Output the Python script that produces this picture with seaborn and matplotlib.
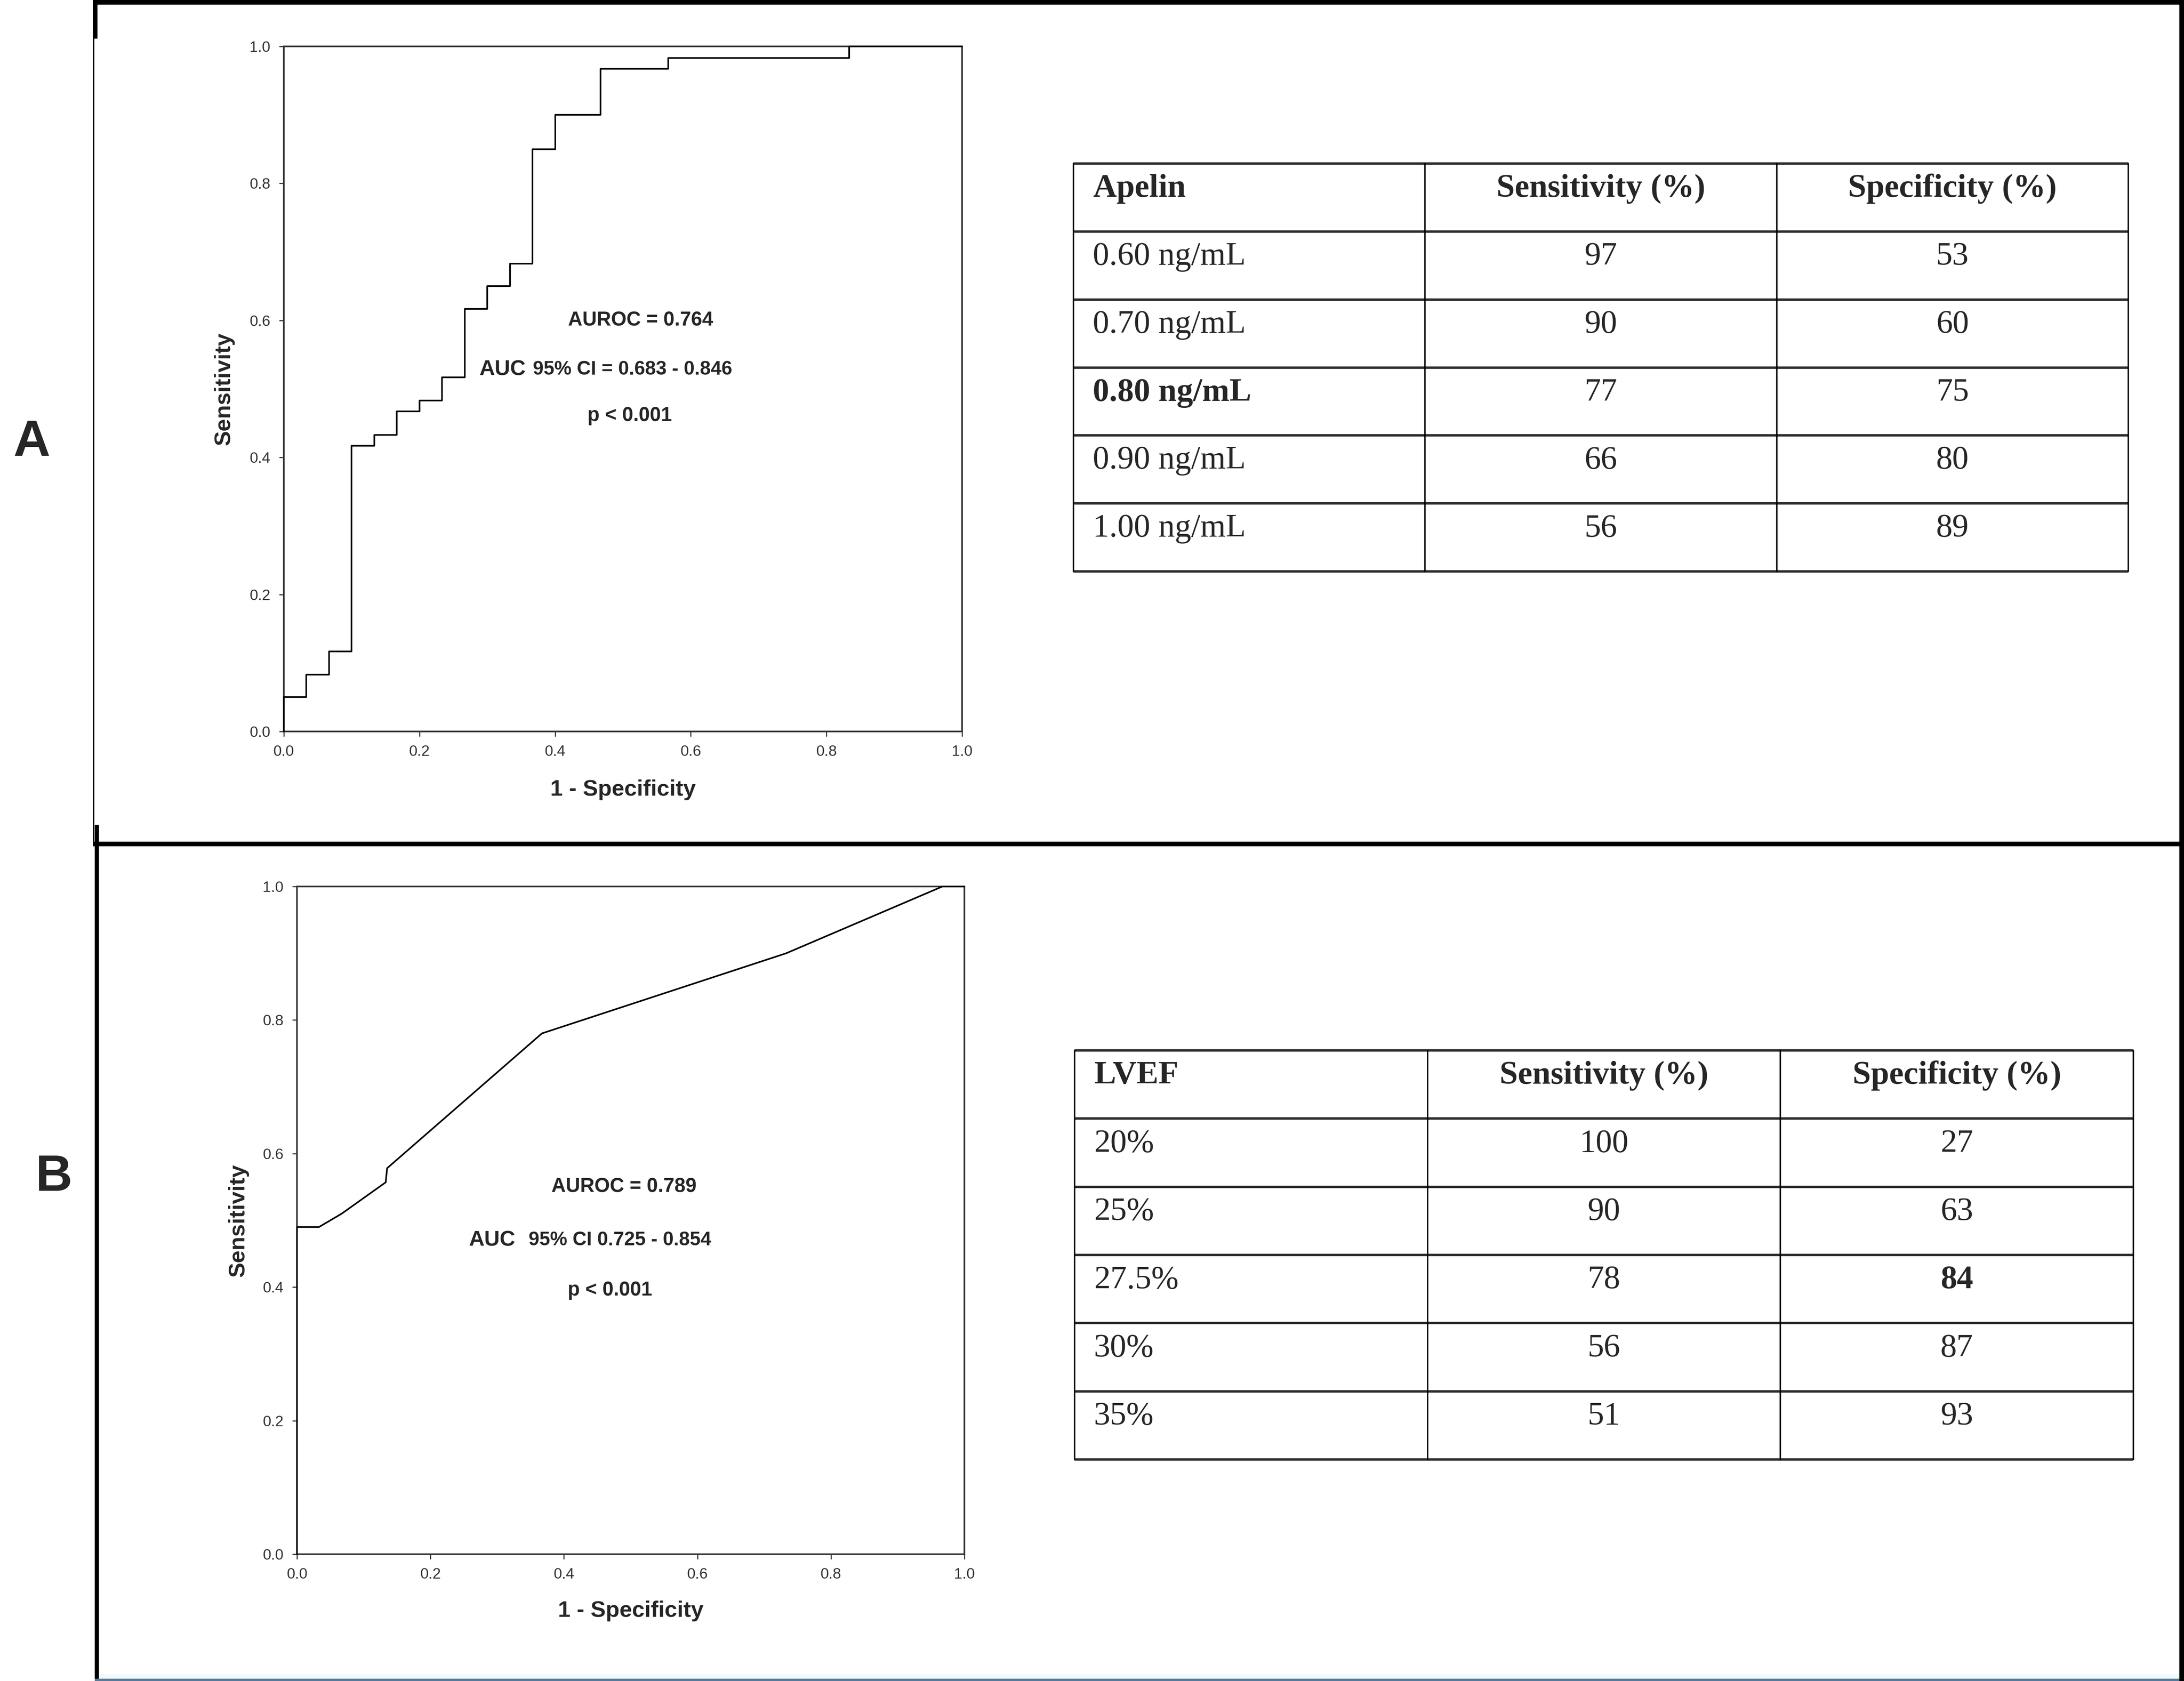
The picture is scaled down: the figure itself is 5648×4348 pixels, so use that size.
import matplotlib
matplotlib.use("Agg")
import matplotlib.pyplot as plt
from matplotlib.lines import Line2D
import seaborn as sns

# ---- data ----
# Panel A: apelin ROC curve (corner points of the step curve)
apelin_fpr = [0, 0, 1/30, 2/30, 3/30, 4/30, 5/30, 6/30, 7/30, 8/30, 9/30,
              10/30, 11/30, 12/30, 14/30, 17/30, 25/30, 1.0]
apelin_tpr = [0, 0.05, 0.083, 0.117, 0.417, 0.433, 0.467, 0.483, 0.517,
              0.617, 0.65, 0.683, 0.85, 0.90, 0.967, 0.983, 1.0, 1.0]

# Panel B: LVEF ROC curve
lvef_fpr = [0, 0, 0.033, 0.067, 0.133, 0.135, 0.367, 0.733, 0.967, 1.0]
lvef_tpr = [0, 0.49, 0.49, 0.51, 0.557, 0.578, 0.78, 0.90, 1.0, 1.0]

# cut-off tables
apelin_cutoffs = ["0.60 ng/mL", "0.70 ng/mL", "0.80 ng/mL", "0.90 ng/mL", "1.00 ng/mL"]
apelin_sens = [97, 90, 77, 66, 56]
apelin_spec = [53, 60, 75, 80, 89]

lvef_cutoffs = ["20%", "25%", "27.5%", "30%", "35%"]
lvef_sens = [100, 90, 78, 56, 51]
lvef_spec = [27, 63, 84, 87, 93]

table_cols = ["Sensitivity (%)", "Specificity (%)"]

axis_ticks = [0.0, 0.2, 0.4, 0.6, 0.8, 1.0]
axis_tick_labels = ["0.0", "0.2", "0.4", "0.6", "0.8", "1.0"]

apelin_notes = ["AUROC = 0.764", "AUC", "95% CI = 0.683 - 0.846", "p < 0.001"]
lvef_notes = ["AUROC = 0.789", "AUC", "95% CI 0.725 - 0.854", "p < 0.001"]

# ---- style ----
sns.set_style("white")
plt.rcParams["font.family"] = ["Liberation Sans", "DejaVu Sans"]

W, H = 5648, 4348
fig = plt.figure(figsize=(W / 100, H / 100), dpi=100)


def px_axes(left, top, right, bottom):
    # pixel box -> figure fraction
    return [left / W, 1 - bottom / H, (right - left) / W, (bottom - top) / H]


def draw_roc(ax, fpr, tpr, steps, notes, pos):
    kw = dict(drawstyle="steps-post") if steps else {}
    sns.lineplot(x=fpr, y=tpr, ax=ax, color="black", linewidth=3.0,
                 estimator=None, sort=False, clip_on=False, zorder=3, **kw)
    ax.set_xlim(0, 1)
    ax.set_ylim(0, 1)
    ax.set_xticks(axis_ticks, axis_tick_labels)
    ax.set_yticks(axis_ticks, axis_tick_labels)
    ax.tick_params(bottom=True, left=True, direction="out", length=9,
                   width=2, labelsize=28, colors="#333333", pad=16)
    for sp in ax.spines.values():
        sp.set_visible(True)
        sp.set_color("#333333")
        sp.set_linewidth(3.0)
    ax.set_xlabel("")
    ax.set_ylabel("")
    ax.text(0.5, -0.085, "1 - Specificity", transform=ax.transAxes,
            ha="center", va="center", fontsize=42, fontweight="bold")
    ax.text(-0.088, 0.5, "Sensitivity", transform=ax.transAxes, rotation=90,
            ha="center", va="center", fontsize=42, fontweight="bold")
    (x_auroc, y_auroc), (x_auc, x_ci, y_ci), (x_p, y_p) = pos
    ax.text(x_auroc, y_auroc, notes[0], ha="center", va="center",
            fontsize=37, fontweight="bold")
    ax.text(x_auc, y_ci, notes[1], ha="right", va="center",
            fontsize=40, fontweight="bold")
    ax.text(x_ci, y_ci, notes[2], ha="left", va="center",
            fontsize=36, fontweight="bold")
    ax.text(x_p, y_p, notes[3], ha="center", va="center",
            fontsize=37, fontweight="bold")


def draw_table(ax, first_col, cutoffs, sens, spec, bold_cells):
    rows = [[first_col] + table_cols]
    rows += [[c, str(a), str(b)] for c, a, b in zip(cutoffs, sens, spec)]
    n = len(rows)
    ax.set_xlim(0, 3)
    ax.set_ylim(n, 0)
    ax.axis("off")
    for i in range(n + 1):
        ax.plot([0, 3], [i, i], color="#2b2b2b", lw=4.5,
                solid_capstyle="butt", clip_on=False)
    for j in range(4):
        ax.plot([j, j], [0, n], color="black", lw=2.6, clip_on=False)
    for i, row in enumerate(rows):
        for j, txt in enumerate(row):
            bold = i == 0 or (i, j) in bold_cells
            ax.text(0.055 if j == 0 else j + 0.5, i + 0.49, txt,
                    ha="left" if j == 0 else "center", va="baseline",
                    fontsize=61, family="Liberation Serif",
                    fontweight="bold" if bold else "normal")


ax_a = fig.add_axes(px_axes(734, 120, 2488, 1892))
draw_roc(ax_a, apelin_fpr, apelin_tpr, True, apelin_notes,
         [(0.526, 0.60), (0.357, 0.367, 0.528), (0.51, 0.461)])

ax_b = fig.add_axes(px_axes(768, 2293, 2494, 4020))
draw_roc(ax_b, lvef_fpr, lvef_tpr, False, lvef_notes,
         [(0.49, 0.55), (0.327, 0.347, 0.47), (0.469, 0.395)])

tab_a = fig.add_axes(px_axes(2776, 423, 5504, 1478))
draw_table(tab_a, "Apelin", apelin_cutoffs, apelin_sens, apelin_spec, {(3, 0)})

tab_b = fig.add_axes(px_axes(2779, 2717, 5517, 3775))
draw_table(tab_b, "LVEF", lvef_cutoffs, lvef_sens, lvef_spec, {(3, 2)})

# panel letters
fig.text(82 / W, 1 - 1145 / H, "A", ha="center", va="center",
         fontsize=95, fontweight="bold")
fig.text(139 / W, 1 - 3045 / H, "B", ha="center", va="center",
         fontsize=95, fontweight="bold")


# panel frames
def frame_line(x0, y0, x1, y1, lw_px, color="black"):
    fig.add_artist(Line2D([x0 / W, x1 / W], [1 - y0 / H, 1 - y1 / H],
                          transform=fig.transFigure, color=color,
                          lw=lw_px * 0.72, solid_capstyle="butt"))


frame_line(240, 6, W, 6, 12)
frame_line(242, 0, 242, 2183, 4)
frame_line(246, 0, 246, 100, 12)
frame_line(240, 2183, W, 2183, 12)
frame_line(250, 2133, 250, H, 11)
frame_line(5642, 0, 5642, H, 12)
frame_line(256, 4336, 5636, 4336, 12, color="#effbfd")
frame_line(245, 4345, 5636, 4345, 6, color="#52799f")

fig.savefig("out.png", dpi=100)
